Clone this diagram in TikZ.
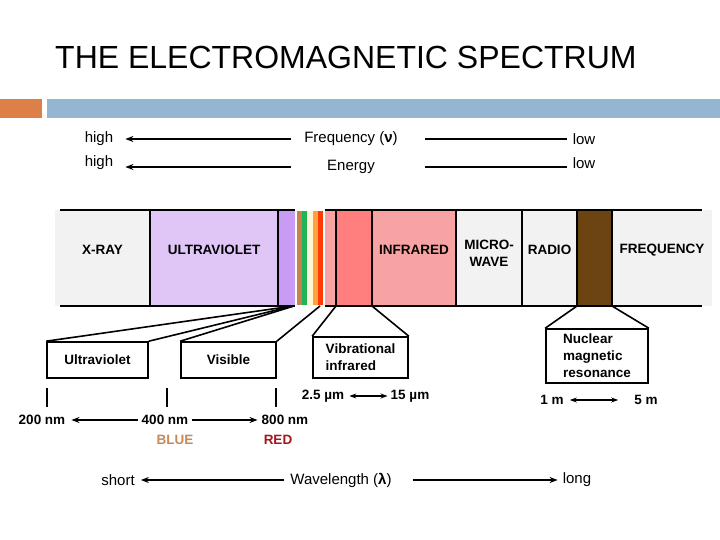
\documentclass[tikz,border=0pt]{standalone}
\usepackage{fontspec}
\setmainfont{Liberation Sans}
\usetikzlibrary{arrows.meta,positioning,calc}
\definecolor{emOrange}{HTML}{DD8047}
\definecolor{emBlue}{HTML}{94B6D2}
\definecolor{emGray}{HTML}{F2F2F2}
\definecolor{emLavender}{HTML}{DFC6F7}
\definecolor{emPurple}{HTML}{C89CF4}
\definecolor{emTan}{HTML}{C8804F}
\definecolor{emGreen}{HTML}{1FB457}
\definecolor{emCream}{HTML}{FFF6D8}
\definecolor{emAmber}{HTML}{FFA23C}
\definecolor{emRed}{HTML}{FF3A06}
\definecolor{emPink}{HTML}{F7A3A3}
\definecolor{emSalmon}{HTML}{FF7F7F}
\definecolor{emBrown}{HTML}{6B4411}
\definecolor{emBlueTxt}{HTML}{C8895A}
\definecolor{emRedTxt}{HTML}{A3161C}
\tikzset{
  band/.style={anchor=north west, inner sep=0pt, outer sep=0pt, minimum height=96pt},
  bandlbl/.style={font=\fontsize{13.5}{17}\selectfont\bfseries, align=center, inner sep=0pt},
  zoombox/.style={draw, line width=1.6pt, inner sep=0pt, align=left,
    font=\fontsize{13.5}{17}\selectfont\bfseries},
  txt/.style={font=\fontsize{15}{18}\selectfont, inner sep=0pt},
  numlbl/.style={font=\fontsize{13.5}{17}\selectfont\bfseries, inner sep=0pt},
  axisarrow/.style={-{Stealth[length=8pt, width=6pt]}, line width=1.6pt},
  axisline/.style={line width=1.6pt},
  spanarrow/.style={{Stealth[length=7pt, width=5pt]}-{Stealth[length=7pt, width=5pt]}, line width=1.2pt},
  sep/.style={line width=1.8pt},
  zoomline/.style={line width=1.6pt},
  tickmark/.style={line width=1.4pt}
}
\begin{document}
\begin{tikzpicture}[x=1pt, y=-1pt]
  \useasboundingbox (0,0) rectangle (720,540);
  \fill[white] (0,0) rectangle (720,540);

  % title and header bar
  \node[anchor=west, inner sep=0pt, font=\fontsize{32}{37}\selectfont] (title) at (55,57) {THE ELECTROMAGNETIC SPECTRUM};
  \fill[emOrange] (0,99) rectangle (42,118);
  \fill[emBlue] (47,99) rectangle (720,118);

  % frequency / energy
  \node[txt] (hi1) at (99,139) {high};
  \node[txt] (freq) at (351,139) {Frequency ({\bfseries ν})};
  \node[txt] (lo1) at (584,139) {low};
  \node[txt] (hi2) at (99,163) {high};
  \node[txt] (energy) at (351,167) {Energy};
  \node[txt] (lo2) at (584,163) {low};
  \draw[axisarrow, shorten <=13pt, shorten >=12pt] (freq.west) -- (hi1.east);
  \draw[axisline, shorten <=27pt, shorten >=6pt] (freq.east) -- (lo1.west);
  \draw[axisarrow, shorten >=12pt] ([xshift=-13pt]freq.west |- energy) -- (hi2.east |- energy);
  \draw[axisline, shorten >=6pt] ([xshift=27pt]freq.east |- energy) -- (lo2.west |- energy);

  % the band
  \node[band, fill=emGray, minimum width=95pt] (xray) at (55,210) {};
  \node[band, fill=emLavender, minimum width=128pt, right=0pt of xray] (uv) {};
  \node[band, fill=emPurple, minimum width=18pt, right=0pt of uv] (uvb) {};
  \node[band, fill=white, minimum width=28pt, right=0pt of uvb] (vis) {};
  \node[band, fill=emPink, minimum width=12pt, right=0pt of vis] (pinka) {};
  \node[band, fill=emSalmon, minimum width=36pt, right=0pt of pinka] (irn) {};
  \node[band, fill=emPink, minimum width=84pt, right=0pt of irn] (ir) {};
  \node[band, fill=emGray, minimum width=66pt, right=0pt of ir] (mw) {};
  \node[band, fill=emGray, minimum width=55pt, right=0pt of mw] (radio) {};
  \node[band, fill=emBrown, minimum width=35pt, right=0pt of radio] (nmr) {};
  \node[band, fill=emGray, minimum width=100pt, right=0pt of nmr] (freqb) {};
  \foreach \c [count=\i] in {emTan,emGreen,emCream,emAmber,emRed}
    \fill[\c] ($(vis.north west)+(1+5.2*\i-5.2,0)$) rectangle ++(5.2,96);
  \foreach \bnd in {uv,uvb,irn,ir,mw,radio,nmr,freqb}
    \draw[sep] (\bnd.north west) -- (\bnd.south west);
  \draw[sep] ([xshift=5pt]xray.north west) -- ([xshift=-10pt]freqb.north east);
  \draw[sep] ([xshift=5pt]xray.south west) -- ([xshift=-10pt]freqb.south east);
  \draw[white, line width=1.8pt] (vis.north west) rectangle (vis.south east);

  \node[bandlbl] (xraylbl) at ([yshift=8pt]xray.center) {X-RAY};
  \node[bandlbl] (uvlbl) at ([yshift=8pt]uv.center) {ULTRAVIOLET};
  \node[bandlbl] (irlbl) at ([yshift=8pt]ir.center) {INFRARED};
  \node[bandlbl] (mwlbl) at ([yshift=4.5pt]mw.center) {MICRO-\\WAVE};
  \node[bandlbl] (radiolbl) at ([yshift=8pt]radio.center) {RADIO};
  \node[bandlbl] (freqlbl) at ([yshift=8pt]freqb.center) {FREQUENCY};

  % zoomed regions
  \node[zoombox, minimum width=101pt, minimum height=36pt] (uvbox) at (97.5,360) {Ultraviolet};
  \node[zoombox, minimum width=95pt, minimum height=36pt] (visbox) at (228.5,360) {Visible};
  \node[zoombox, minimum width=95pt, minimum height=41pt] (vibbox) at (360.5,357.5) {Vibrational\\infrared};
  \node[zoombox, minimum width=102pt, minimum height=54pt] (nmrbox) at (597,356) {Nuclear\\magnetic\\resonance};
  \draw[zoomline] (uvbox.north west) -- ([xshift=-3pt]uvb.south east);
  \draw[zoomline] (uvbox.north east) -- ([xshift=-3pt]uvb.south east);
  \draw[zoomline] (visbox.north west) -- ([xshift=-2pt]uvb.south east);
  \draw[zoomline] (visbox.north east) -- ([xshift=-4pt]vis.south east);
  \draw[zoomline] (vibbox.north west) -- (irn.south west);
  \draw[zoomline] (vibbox.north east) -- (irn.south east);
  \draw[zoomline] (nmrbox.north west) -- (nmr.south west);
  \draw[zoomline] (nmrbox.north east) -- (nmr.south east);

  % wavelength marks
  \foreach \x in {47,167,276}
    \draw[tickmark] (\x,388) -- (\x,407);
  \node[numlbl] (n200) at (42,420) {200 nm};
  \node[numlbl] (n400) at (165,420) {400 nm};
  \node[numlbl] (n800) at (285,420) {800 nm};
  \node[numlbl, text=emBlueTxt] (blue) at (175,440) {BLUE};
  \node[numlbl, text=emRedTxt] (red) at (278,440) {RED};
  \draw[axisarrow, line width=1.4pt, shorten <=4pt, shorten >=6pt] (n400.west) -- (n200.east);
  \draw[axisarrow, line width=1.4pt, shorten <=4pt, shorten >=4pt] (n400.east) -- (n800.west);
  \node[numlbl] (um25) at (323,396) {2.5 µm};
  \node[numlbl] (um15) at (410,396) {15 µm};
  \draw[spanarrow, shorten <=5pt, shorten >=3pt] (um25.east) -- (um15.west);
  \node[numlbl] (m1) at (552,400) {1 m};
  \node[numlbl] (m5) at (646,400) {5 m};
  \draw[spanarrow, shorten <=6pt, shorten >=16pt] (m1.east) -- (m5.west);

  % wavelength axis
  \node[txt] (short) at (118,480) {short};
  \node[txt] (wave) at (341,480) {Wavelength ({\bfseries λ})};
  \node[txt] (long) at (577,480) {long};
  \draw[axisarrow, shorten <=6pt, shorten >=6pt] (wave.west) -- (short.east);
  \draw[axisarrow, shorten <=21pt, shorten >=5pt] (wave.east) -- (long.west);
\end{tikzpicture}
\end{document}
